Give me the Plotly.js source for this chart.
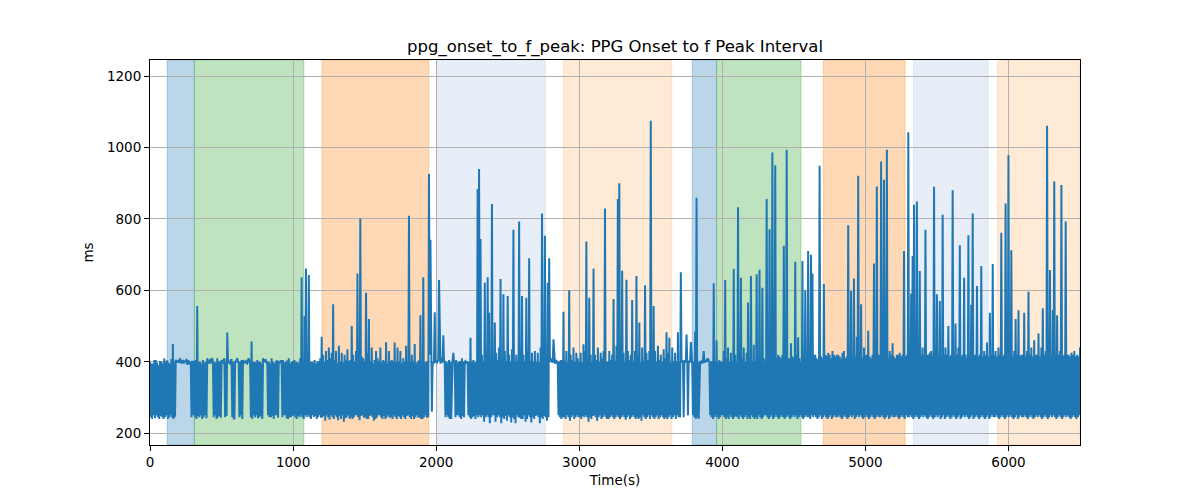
<!DOCTYPE html>
<html>
<head>
<meta charset="utf-8">
<script src="https://cdn.plot.ly/plotly-3.0.1.min.js"></script>
<style>html,body{margin:0;padding:0;background:#fff;}#chart{width:1200px;height:500px;}</style>
</head>
<body>
<div id="chart"></div>
<script>
// sampling step of the series (seconds)
const sampleStep = 5;
// PPG onset to f peak interval (ms), one value every 5 s, rows of 100 s
const intervalMs = [
400,245,395,240,395,250,405,242,405,250,398,245,390,240,402,248,400,245,396,240,
410,245,400,250,404,240,397,245,395,250,408,243,450,240,400,246,405,402,398,404,
402,398,410,405,395,400,405,396,398,403,400,408,392,399,404,395,396,400,245,400,
400,250,402,245,405,240,556,248,400,245,400,250,395,240,405,245,398,250,400,242,
410,400,395,403,405,398,400,410,396,245,400,250,398,240,410,245,402,248,400,243,
405,400,398,402,410,245,400,248,482,400,400,396,395,405,405,245,400,242,240,400,
400,405,410,398,400,245,400,250,405,240,405,400,398,402,402,396,395,404,410,400,
400,245,457,240,400,250,400,245,398,250,405,242,400,245,400,248,396,240,410,400,
400,405,405,398,400,250,400,245,396,245,410,248,400,240,395,250,402,250,405,243,
400,398,398,404,400,245,405,250,398,250,400,242,404,240,410,245,396,245,400,248,
402,250,405,245,398,240,400,248,396,245,410,250,637,245,400,240,528,250,661,245,
400,250,643,245,400,240,400,250,398,245,405,248,396,240,400,245,402,250,410,243,
470,245,420,248,400,235,430,250,405,245,440,238,410,250,425,245,561,240,405,250,
430,245,396,236,445,248,400,240,425,250,398,232,420,242,404,245,435,250,402,240,
405,245,500,240,420,245,400,250,430,250,647,245,402,236,801,248,415,250,410,243,
400,245,593,240,425,240,520,248,402,250,440,245,396,235,405,240,430,243,410,250,
402,250,440,245,398,240,405,248,400,240,455,245,396,250,430,243,402,245,405,240,
400,250,454,245,398,240,440,248,402,245,430,240,396,250,410,245,400,240,445,248,
400,250,809,245,398,240,420,248,402,240,450,245,396,250,400,243,404,245,530,240,
400,240,637,245,398,250,400,243,402,245,926,420,742,400,260,395,395,402,539,400,
400,398,405,402,629,400,395,404,410,398,474,400,400,245,400,250,398,245,405,240,
400,240,400,402,425,398,400,245,405,250,398,250,400,245,402,240,410,248,400,245,
400,402,395,398,400,250,400,245,467,240,400,245,405,248,398,240,400,250,884,245,
940,250,744,245,420,250,400,232,621,245,430,250,637,245,537,228,402,245,842,250,
400,250,510,232,425,245,405,250,440,245,632,228,402,245,589,240,430,248,400,235,
584,250,420,245,400,230,435,245,770,240,402,228,420,250,400,245,793,243,425,240,
584,240,420,250,400,232,579,240,430,250,690,245,402,230,425,245,400,240,430,248,
400,250,425,245,398,228,440,245,815,240,402,248,753,245,420,235,621,245,690,400,
410,402,400,398,463,404,395,400,405,398,400,250,400,245,405,240,405,245,540,245,
400,240,430,250,398,245,600,235,420,245,405,250,440,240,400,245,425,250,410,245,
400,245,425,240,398,248,449,245,430,250,737,245,402,232,579,245,420,240,400,248,
661,250,420,245,405,235,440,245,400,250,425,240,410,245,430,250,829,245,400,240,
400,240,430,245,405,250,420,245,576,240,402,245,445,250,856,245,900,240,400,245,
655,250,425,245,400,238,630,245,430,250,405,240,420,245,573,250,400,245,430,240,
640,245,420,240,510,245,398,235,440,250,402,245,614,240,425,245,405,250,430,240,
1075,250,420,245,556,240,430,245,400,250,445,240,405,245,420,250,400,245,435,240,
410,245,483,240,425,245,467,250,398,240,440,245,402,250,425,240,400,250,483,245,
400,245,651,400,400,404,245,400,405,398,476,400,250,402,400,398,455,400,395,250,
400,245,485,240,859,245,400,240,400,402,398,400,395,404,430,398,400,402,405,400,
410,402,400,250,400,245,402,240,620,245,400,250,460,245,400,240,405,245,400,250,
400,250,430,245,629,240,410,245,440,240,400,250,425,245,402,240,660,245,420,248,
400,245,833,240,430,250,635,245,410,240,440,245,400,250,425,240,566,245,402,240,
640,250,400,245,448,240,400,245,645,240,402,250,658,245,400,240,607,245,410,250,
400,250,856,245,405,240,771,245,410,250,986,240,400,245,950,250,410,245,420,240,
415,245,410,250,420,245,725,240,405,245,994,250,410,245,410,240,452,245,415,250,
410,245,680,250,420,240,469,245,410,250,400,245,682,240,415,245,600,250,420,245,
710,245,430,240,700,250,647,245,420,250,420,245,410,240,405,245,949,250,415,240,
410,245,618,250,420,245,416,240,425,245,420,250,410,240,430,245,420,250,415,245,
420,245,420,250,415,245,410,240,425,245,430,250,410,245,415,240,782,245,420,250,
598,245,420,250,633,240,415,245,470,250,921,245,420,250,561,245,410,240,440,245,
420,250,420,245,487,240,415,245,410,250,420,245,675,240,410,245,891,250,420,245,
420,245,961,250,415,245,910,240,420,245,994,250,410,240,430,245,420,250,452,245,
415,245,410,250,420,245,420,240,425,245,415,250,420,245,710,240,415,250,420,245,
1043,245,420,250,591,245,696,240,840,245,420,250,849,245,415,240,654,245,420,250,
440,245,420,250,770,245,420,240,420,245,425,250,430,245,415,240,890,245,420,250,
589,245,420,250,570,240,415,245,812,250,420,240,440,245,420,250,500,245,415,240,
420,245,880,250,415,245,507,240,420,245,440,250,726,240,415,245,420,250,635,245,
420,250,410,245,754,240,415,245,560,250,815,240,420,245,420,250,612,245,415,240,
420,245,668,250,415,245,430,240,420,245,454,250,415,240,537,245,420,250,674,245,
420,245,430,250,415,245,440,240,420,245,761,250,415,245,420,240,843,245,420,250,
978,245,420,250,712,245,415,240,430,245,520,250,420,240,544,245,415,250,420,245,
420,245,537,250,415,245,430,240,596,245,420,250,440,245,415,240,460,245,420,250,
420,245,479,250,415,245,440,240,550,245,420,250,430,245,1061,240,420,245,657,250,
420,245,545,250,905,245,420,240,530,245,420,250,430,245,895,240,415,245,420,250,
793,245,420,250,420,245,415,240,425,245,420,250,430,245,415,240,420,245,415,250,
440
];
const timeS = intervalMs.map((_, i) => i * sampleStep);

// shaded activity periods (start, end in seconds) and colours
const spanStart = [120, 310, 1203, 2003, 2888, 3790, 3960, 4706, 5336, 5923];
const spanEnd   = [310, 1075, 1949, 2762, 3648, 3960, 4550, 5278, 5858, 6500];
const spanColor = [
  'rgba(31,119,180,0.3)', 'rgba(44,160,44,0.3)', 'rgba(255,127,14,0.3)',
  'rgba(174,199,232,0.3)', 'rgba(255,187,120,0.3)',
  'rgba(31,119,180,0.3)', 'rgba(44,160,44,0.3)', 'rgba(255,127,14,0.3)',
  'rgba(174,199,232,0.3)', 'rgba(255,187,120,0.3)'
];

const xTicks = [0, 1000, 2000, 3000, 4000, 5000, 6000];
const yTicks = [200, 400, 600, 800, 1000, 1200];

const shapes = spanStart.map((s, i) => ({
  type: 'rect', xref: 'x', yref: 'paper', x0: s, x1: spanEnd[i], y0: 0, y1: 1,
  fillcolor: spanColor[i], line: {color: spanColor[i], width: 1}, layer: 'below'
}));

const font = {family: 'DejaVu Sans, sans-serif', size: 13.5, color: '#000'};

Plotly.newPlot('chart', [{
  x: timeS, y: intervalMs, type: 'scatter', mode: 'lines',
  line: {color: '#1f77b4', width: 2}, hoverinfo: 'skip'
}], {
  width: 1200, height: 500,
  margin: {l: 150, r: 120, t: 60, b: 55},
  paper_bgcolor: '#fff', plot_bgcolor: '#fff',
  font: font,
  showlegend: false,
  title: {text: 'ppg_onset_to_f_peak: PPG Onset to f Peak Interval',
          font: {family: 'DejaVu Sans, sans-serif', size: 16.5, color: '#000'},
          x: 0.5125, xanchor: 'center', y: 0.908, yref: 'container', yanchor: 'middle'},
  xaxis: {
    range: [0, 6500], tickvals: xTicks, ticktext: xTicks.map(String),
    showgrid: true, gridcolor: '#b0b0b0', gridwidth: 1,
    zeroline: false, showline: true, linecolor: '#000', linewidth: 1, mirror: true,
    ticks: 'outside', ticklen: 5, tickcolor: '#000', tickfont: font,
    title: {text: 'Time(s)', font: font, standoff: 6}
  },
  yaxis: {
    range: [167, 1245], tickvals: yTicks, ticktext: yTicks.map(String),
    showgrid: true, gridcolor: '#b0b0b0', gridwidth: 1,
    zeroline: false, showline: true, linecolor: '#000', linewidth: 1, mirror: true,
    ticks: 'outside', ticklen: 5, tickcolor: '#000', tickfont: font,
    title: {text: 'ms', font: font, standoff: 10}
  },
  shapes: shapes
}, {staticPlot: true, displayModeBar: false});
</script>
</body>
</html>
